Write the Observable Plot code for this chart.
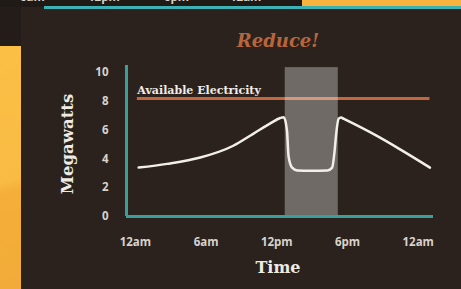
<!DOCTYPE html>
<html><head><meta charset="utf-8">
<script src="https://cdn.jsdelivr.net/npm/d3@7"></script>
<script src="https://cdn.jsdelivr.net/npm/@observablehq/plot@0.6"></script>
<style>
html,body{margin:0;padding:0;width:461px;height:289px;overflow:hidden;background:#2b221d;}
#wrap{position:relative;width:461px;height:289px;}
.deco{position:absolute;}
.prev{position:absolute;top:-11px;color:#d8d2cc;font:700 11.5px 'Open Sans',sans-serif;}
#chart{position:absolute;left:0;top:0;}
</style></head><body>
<div id="wrap">
<div class="deco" style="left:0;top:0;width:302px;height:7px;background:#201a16;"></div>
<div class="prev" style="left:20px">6am</div>
<div class="prev" style="left:88px">12pm</div>
<div class="prev" style="left:164px">6pm</div>
<div class="prev" style="left:230px">12am</div>
<div class="deco" style="left:302px;top:0;width:159px;height:7px;background:#f6b43e;"></div>
<div class="deco" style="left:44px;top:6px;width:417px;height:3px;background:#3bb1b5;"></div>
<div class="deco" style="left:0;top:7px;width:21px;height:39px;background:#231c18;"></div>
<div class="deco" style="left:0;top:46px;width:21px;height:243px;background:linear-gradient(165deg,#fbbf46 0%,#f9bb43 55%,#f4ae39 60%,#f2ab38 100%);"></div>
<div id="chart"></div>
</div>
<script>
// Data
const hours = [0.28, 2.69, 5.51, 8.31, 10.0, 11.45, 12.3, 12.6, 12.87, 13.0, 13.3, 13.75, 14.85, 16.3, 16.7, 16.9, 17.05, 17.25, 17.45, 17.7, 20.5, 22.5, 25.0];
const megawatts = [3.40, 3.66, 4.10, 4.92, 5.75, 6.47, 6.85, 6.9, 5.96, 4.2, 3.4, 3.2, 3.18, 3.2, 3.4, 4.5, 5.8, 6.8, 6.88, 6.78, 5.6, 4.65, 3.4];
const xTicks = [0, 6, 12, 18, 24];
const xTickLabels = ["12am", "6am", "12pm", "6pm", "12am"];
const yTicks = [0, 2, 4, 6, 8, 10];
const availableLevel = [8.2];
const availableSpan = [0.17, 25.0];
const reduceWindow = [12.72, 17.22];
const reduceTop = [10.35];
const xDomain = [-0.75, 25.3];
const yDomain = [0, 10.5];
const titleText = "Reduce!";
const availableLabel = "Available Electricity";
const yLabel = "Megawatts";
const xLabel = "Time";

const demand = hours.map((h, i) => ({h, mw: megawatts[i]}));
const teal = "#3a9f9c";
const serif = "'DejaVu Serif', serif";

const chart = Plot.plot({
  width: 461, height: 289,
  marginLeft: 126, marginRight: 28, marginTop: 65, marginBottom: 73,
  style: {background: "transparent", color: "#d8d2cc", fontFamily: "'Open Sans', sans-serif", fontSize: "11.5px", fontWeight: 700},
  x: {domain: xDomain, ticks: xTicks, tickFormat: d => xTickLabels[xTicks.indexOf(d)], tickSize: 0, tickPadding: 21, label: null},
  y: {domain: yDomain, ticks: yTicks, tickSize: 0, tickPadding: 18, label: null},
  marks: [
    Plot.ruleY(availableLevel, {x1: availableSpan[0], x2: availableSpan[1], stroke: "#c2673e", strokeWidth: 3}),
    Plot.rect([0], {x1: reduceWindow[0], x2: reduceWindow[1], y1: 0, y2: reduceTop[0], fill: "white", fillOpacity: 0.33}),
    Plot.ruleX([xDomain[0]], {y1: yDomain[0], y2: yDomain[1], stroke: teal, strokeWidth: 3}),
    Plot.ruleY([0], {x1: xDomain[0], x2: xDomain[1], stroke: teal, strokeWidth: 3}),
    Plot.line(demand, {x: "h", y: "mw", stroke: "#f2efe9", strokeWidth: 2.5, curve: "monotone-x"}),
    Plot.text([availableLabel], {x: availableSpan[0], y: availableLevel[0], dy: -8, textAnchor: "start", fontFamily: serif, fontWeight: "bold", fontSize: 11, fill: "#f0ece6"}),
    Plot.text([titleText], {frameAnchor: "top", dx: -2, dy: -31, fontFamily: serif, fontStyle: "italic", fontWeight: "bold", fontSize: 18, fill: "#b8653c"}),
    Plot.text([yLabel], {frameAnchor: "left", textAnchor: "middle", dx: -59, dy: 3, rotate: -90, fontFamily: serif, fontWeight: "bold", fontSize: 16.5, fill: "#eeeae4"}),
    Plot.text([xLabel], {frameAnchor: "bottom", dx: -2, dy: 56, fontFamily: serif, fontWeight: "bold", fontSize: 16, fill: "#eeeae4"})
  ]
});
document.getElementById("chart").appendChild(chart);
</script>
</body></html>
